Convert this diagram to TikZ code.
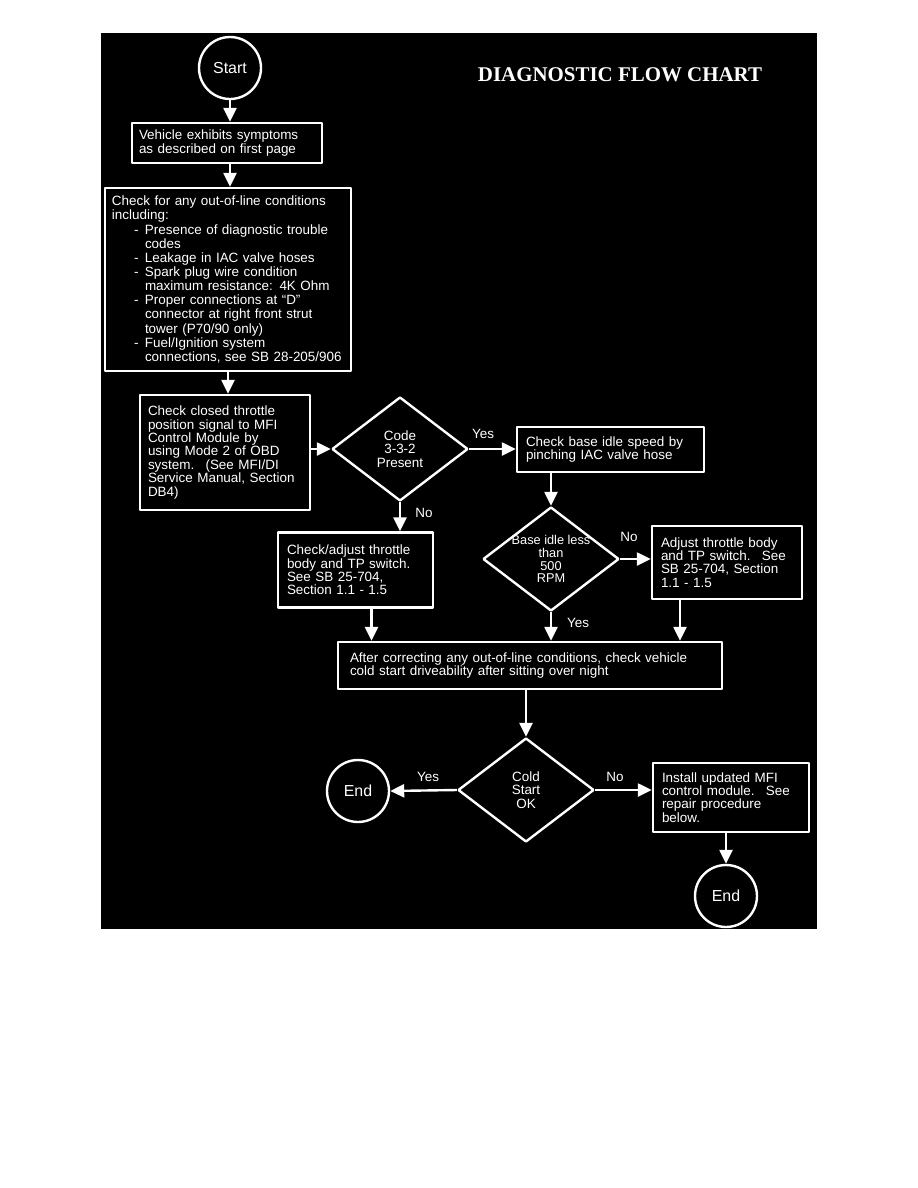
\documentclass[tikz,border=0pt]{standalone}
\usepackage{fontspec}
\setmainfont{Liberation Sans}
\newfontfamily\titlefont{Liberation Serif}
\usetikzlibrary{arrows.meta,shapes.geometric}
\newcommand{\dashline}[1]{\hspace*{22bp}\makebox[11bp][l]{-}\mbox{#1}}
\newcommand{\wrapline}[1]{\hspace*{33bp}\mbox{#1}}
\begin{document}
\begin{tikzpicture}[x=1bp,y=-1bp,line join=bevel,
  every node/.style={text=white,font=\fontsize{13.5}{13.4}\selectfont},
  flowbox/.style={draw=white,line width=2.4bp,align=left,inner xsep=7bp,inner ysep=0pt},
  decision/.style={draw=white,line width=2.4bp,shape=diamond,align=center,inner sep=0pt,minimum width=136bp,minimum height=104bp},
  terminal/.style={draw=white,line width=2.4bp,circle,inner sep=0pt,minimum size=62bp,font=\fontsize{16}{17}\selectfont},
  flowarrow/.style={draw=white,line width=2.4bp,-{Triangle[width=13bp,length=14bp]}},
  branch/.style={inner sep=0pt}]
%%
\useasboundingbox (0,0) rectangle (918,1188);
\fill[black] (101,33) rectangle (817,929);
\node (0) at (620,75) [font=\titlefont\bfseries\fontsize{21}{22}\selectfont] {DIAGNOSTIC FLOW CHART};
\node (1) at (230,68) [terminal] {Start};
  \node (2) at (227,143) [flowbox,text width=176bp,minimum height=40bp] {Vehicle exhibits symptoms\\as described on first page};
  \node (3) at (228,279.5) [flowbox,text width=232bp,minimum height=183bp,font=\fontsize{13.5}{14.2}\selectfont] {Check for any out-of-line conditions\\including:\\
    \dashline{Presence of diagnostic trouble}\\\wrapline{codes}\\
    \dashline{Leakage in IAC valve hoses}\\
    \dashline{Spark plug wire condition}\\\wrapline{maximum resistance: 4K Ohm}\\
    \dashline{Proper connections at ``D''}\\\wrapline{connector at right front strut}\\\wrapline{tower (P70/90 only)}\\
    \dashline{Fuel/Ignition system}\\\wrapline{connections, see SB 28-205/906}};
  \node (4) at (225,452.5) [flowbox,text width=154bp,minimum height=115bp,inner xsep=8bp] {Check closed throttle\\position signal to MFI\\Control Module by\\using Mode 2 of OBD\\system.~ (See MFI/DI\\\mbox{Service Manual, Section}\\DB4)};
  \node (5) at (400,449) [decision] {Code\\3-3-2\\Present};
  \node (6) at (610.5,449.5) [flowbox,text width=169bp,minimum height=45bp,inner xsep=9bp] {Check base idle speed by\\pinching IAC valve hose};
  \node (7) at (355.5,570) [flowbox,text width=137bp,minimum height=75bp,inner xsep=9bp] {Check/adjust throttle\\body and TP switch.\\See SB 25-704,\\Section 1.1 - 1.5};
  \node (8) at (551,559) [decision,font=\fontsize{12.8}{12.8}\selectfont] {\makebox[0pt]{Base idle less}\\than\\500\\RPM};
  \node (9) at (727,562.5) [flowbox,text width=132bp,minimum height=73bp,inner xsep=9bp] {Adjust throttle body\\and TP switch.~ See\\SB 25-704, Section\\1.1 - 1.5};
  \node (10) at (530,665.5) [flowbox,text width=360bp,minimum height=47bp,inner xsep=12bp] {After correcting any out-of-line conditions, check vehicle\\cold start driveability after sitting over night};
  \node (11) at (526,790) [decision] {Cold\\Start\\OK};
  \node (12) at (358,791) [terminal] {End};
  \node (13) at (731,797.5) [flowbox,text width=138bp,minimum height=69bp,inner xsep=9bp] {Install updated MFI\\control module.~ See\\repair procedure\\below.};
  \node (14) at (726,896) [terminal] {End};
%%
  \node (y1) at (483,434) [branch] {Yes};
  \node (n1) at (424,513) [branch] {No};
  \node (n2) at (629,537) [branch] {No};
  \node (y2) at (578,623) [branch] {Yes};
  \node (y3) at (428,777) [branch] {Yes};
  \node (n3) at (615,777) [branch] {No};
  \coordinate (c7) at ([xshift=16bp]7.south);
  \coordinate (c9) at ([xshift=-47bp]9.south);
%%
  \draw [flowarrow] (1) -- (1 |- 2.north);
  \draw [flowarrow] (1 |- 2.south) -- (1 |- 3.north);
  \draw [flowarrow] (3.south) -- (3.south |- 4.north);
  \draw [flowarrow] (5.west -| 4.east) -- (5.west);
  \draw [flowarrow] (5.east) -- (5.east -| 6.west);
  \draw [flowarrow] (5.south) -- (5.south |- 7.north);
  \draw [flowarrow] (8.north |- 6.south) -- (8.north);
  \draw [flowarrow] (8.east) -- (8.east -| 9.west);
  \draw [flowarrow] (c7) -- (c7 |- 10.north);
  \draw [flowarrow] (8.south) -- (8.south |- 10.north);
  \draw [flowarrow] (c9) -- (c9 |- 10.north);
  \draw [flowarrow] (11.north |- 10.south) -- (11.north);
  \draw [flowarrow] (11.west) -- (12.east);
  \draw [flowarrow] (11.east) -- (11.east -| 13.west);
  \draw [flowarrow] (14.north |- 13.south) -- (14.north);
%
\end{tikzpicture}
\end{document}
